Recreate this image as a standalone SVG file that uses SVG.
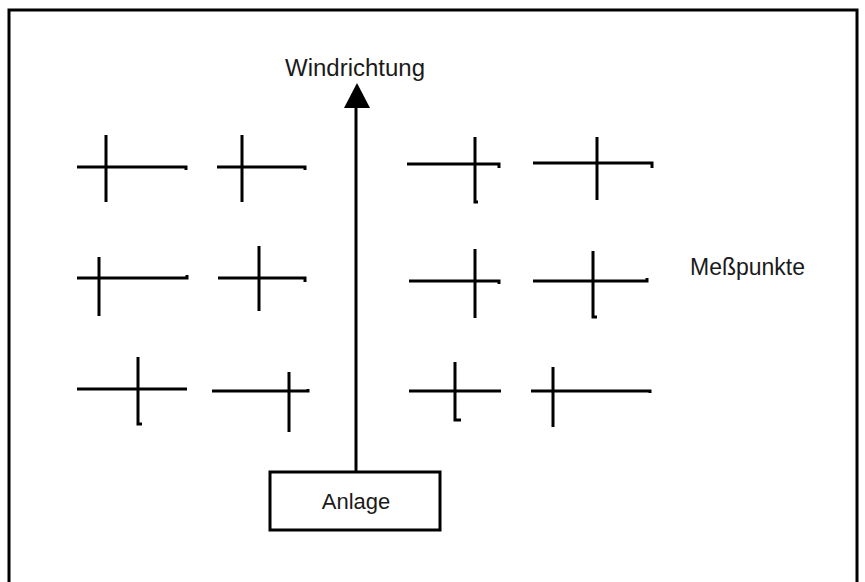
<svg xmlns="http://www.w3.org/2000/svg" width="865" height="582" viewBox="0 0 865 582">
  <style>
    .frame { fill: #ffffff; stroke: #000000; stroke-width: 3; }
    .mark { fill: none; stroke: #000000; stroke-width: 3; stroke-linecap: butt; stroke-linejoin: miter; }
    .label { font-family: "Liberation Sans", Arial, sans-serif; font-size: 22px; fill: #1a1a1a; }
    .big { font-size: 23px; }
    .box { fill: #ffffff; stroke: #000000; stroke-width: 3; }
  </style>

  <rect width="865" height="582" fill="#ffffff"/>
  <!-- outer frame, open at the bottom edge of the sheet -->
  <rect class="frame" x="9" y="10" width="848" height="600"/>

  <g id="connectors">
    <line class="mark" x1="356" y1="471" x2="356" y2="106"/>
    <path d="M 344 108 L 357 83 L 370 108 Z" fill="#000000"/>
  </g>

  <g id="windrichtung">
    <text class="label big" x="285" y="76" textLength="140" lengthAdjust="spacingAndGlyphs">Windrichtung</text>
  </g>

  <g id="anlage">
    <rect class="box" x="270" y="472" width="170" height="58"/>
    <text class="label" x="356" y="509" text-anchor="middle">Anlage</text>
  </g>

  <g id="messpunkte">
    <text class="label big" x="690" y="275" textLength="115" lengthAdjust="spacingAndGlyphs">Meßpunkte</text>
  </g>

  <!-- measuring points, left block -->
  <g id="mp1"><path class="mark" d="M 77 167 H 186 V 170 M 106 135 V 202"/></g>
  <g id="mp2"><path class="mark" d="M 217 167 H 305 V 170 M 242 135 V 202"/></g>
  <g id="mp5"><path class="mark" d="M 77 278 H 187 V 275 M 99 257 V 316"/></g>
  <g id="mp6"><path class="mark" d="M 218 278 H 305 V 282 M 259 246 V 311"/></g>
  <g id="mp9"><path class="mark" d="M 77 389 H 187 M 138 357 V 424 H 142"/></g>
  <g id="mp10"><path class="mark" d="M 212 391 H 308 V 389 M 289 372 V 432"/></g>

  <!-- measuring points, right block -->
  <g id="mp3"><path class="mark" d="M 407 164 H 499 V 168 M 475 137 V 202 H 478"/></g>
  <g id="mp4"><path class="mark" d="M 533 163 H 652 V 168 M 597 137 V 200"/></g>
  <g id="mp7"><path class="mark" d="M 409 281 H 499 V 284 M 475 249 V 318"/></g>
  <g id="mp8"><path class="mark" d="M 533 281 H 647 V 278 M 593 251 V 317 H 597"/></g>
  <g id="mp11"><path class="mark" d="M 409 391 H 501 M 455 362 V 420 H 461"/></g>
  <g id="mp12"><path class="mark" d="M 531 391 H 650 V 393 M 553 367 V 427"/></g>
</svg>
